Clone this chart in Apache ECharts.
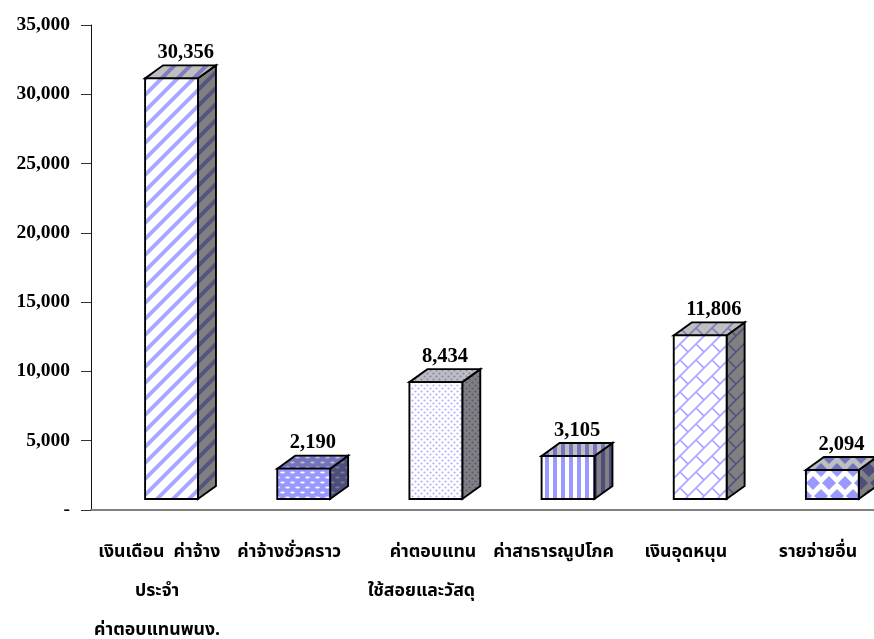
<!DOCTYPE html>
<html>
<head>
<meta charset="utf-8">
<style>html,body{margin:0;padding:0;background:#fff}#c{width:874px;height:639px}</style>
<script src="https://cdn.jsdelivr.net/npm/echarts@6/dist/echarts.min.js"></script>
</head>
<body>
<div id="c"></div>
<script>
const categories = [
  ' เงินเดือน  ค่าจ้าง\nประจำ\nค่าตอบแทนพนง.',
  'ค่าจ้างชั่วคราว',
  '     ค่าตอบแทน\nใช้สอยและวัสดุ',
  'ค่าสาธารณูปโภค',
  'เงินอุดหนุน',
  'รายจ่ายอื่น'
];
const values = [30356, 2190, 8434, 3105, 11806, 2094];
const yTickLabels = ['-', '5,000', '10,000', '15,000', '20,000', '25,000', '30,000', '35,000'];

const SHADES = [1, 0.75, 0.5];
function shade(rgb, k) {
  return 'rgb(' + rgb.map(c => Math.round(c * k)).join(',') + ')';
}
const BLUE = [153, 153, 255], WHITE = [255, 255, 255];

function tile(w, h, bg, k, draw) {
  const c = document.createElement('canvas');
  c.width = w; c.height = h;
  const g = c.getContext('2d');
  g.fillStyle = shade(bg, k);
  g.fillRect(0, 0, w, h);
  draw(g, k);
  return { image: c, repeat: 'repeat' };
}
function ellipse(g, x, y, rx, ry) {
  g.beginPath(); g.ellipse(x, y, rx, ry, 0, 0, Math.PI * 2); g.fill();
}
const painters = [
  k => tile(16, 16, WHITE, k, (g) => {
    g.strokeStyle = shade([168, 168, 255], k); g.lineWidth = 4;
    for (let i = -16; i <= 32; i += 16) {
      g.beginPath(); g.moveTo(i - 2, 18); g.lineTo(i + 18, -2); g.stroke();
    }
  }),
  k => tile(10, 10, BLUE, k, (g) => {
    g.fillStyle = shade(WHITE, k);
    ellipse(g, 2.5, 2.5, 2.3, 1); ellipse(g, 7.5, 7.5, 2.3, 1);
    ellipse(g, -2.5, 7.5, 2.3, 1); ellipse(g, 12.5, 2.5, 2.3, 1);
  }),
  k => tile(6, 6, WHITE, k, (g) => {
    g.fillStyle = shade([176, 176, 255], k);
    ellipse(g, 1.5, 1.5, 1.1, 1.1); ellipse(g, 4.5, 4.5, 1.1, 1.1);
  }),
  k => tile(8, 8, WHITE, k, (g) => {
    g.fillStyle = shade(BLUE, k);
    g.fillRect(1, 0, 4, 8);
  }),
  k => tile(16, 16, WHITE, k, (g) => {
    g.strokeStyle = shade([165, 165, 255], k); g.lineWidth = 1.6;
    g.beginPath();
    g.moveTo(-1, 17); g.lineTo(17, -1);
    g.moveTo(-2, 2); g.lineTo(2, -2);
    g.moveTo(14, 18); g.lineTo(18, 14);
    g.moveTo(8, 8); g.lineTo(16, 16);
    g.stroke();
  }),
  k => tile(16, 26, WHITE, k, (g) => {
    g.fillStyle = shade(BLUE, k);
    [[13, 15], [5, 2], [5, 28], [-3, 15], [13, -11], [21, 2], [21, 28]].forEach(p => {
      g.beginPath();
      g.moveTo(p[0] - 7, p[1]); g.lineTo(p[0], p[1] - 7);
      g.lineTo(p[0] + 7, p[1]); g.lineTo(p[0], p[1] + 7);
      g.closePath(); g.fill();
    });
  })
];
const patterns = painters.map(p => SHADES.map(k => p(k)));

const FRONT_LIFT = 11, DEPTH_X = 18, DEPTH_Y = 13, CENTER_SHIFT = 12;
const outline = { stroke: '#000', lineWidth: 1.9, lineJoin: 'miter' };

function renderBar(params, api) {
  const i = api.value(0), v = api.value(1);
  const top = api.coord([i, v]), base = api.coord([i, 0]);
  const w = api.size([1, 0])[0] * 0.4;
  const x0 = top[0] - CENTER_SHIFT, x1 = x0 + w;
  const y0 = top[1] - FRONT_LIFT, y1 = base[1] - FRONT_LIFT;
  const p = patterns[i];
  const poly = (pts, fill) => ({
    type: 'polygon', shape: { points: pts },
    style: Object.assign({ fill: fill }, outline)
  });
  return {
    type: 'group',
    children: [
      poly([[x1, y0], [x1 + DEPTH_X, y0 - DEPTH_Y], [x1 + DEPTH_X, y1 - DEPTH_Y], [x1, y1]], p[2]),
      poly([[x0, y0], [x0 + DEPTH_X, y0 - DEPTH_Y], [x1 + DEPTH_X, y0 - DEPTH_Y], [x1, y0]], p[1]),
      poly([[x0, y0], [x1, y0], [x1, y1], [x0, y1]], p[0]),
      {
        type: 'text',
        style: {
          x: x0 + 12.5, y: y0 - DEPTH_Y - 2,
          text: v.toLocaleString('en-US'),
          font: 'bold 20.5px "Liberation Serif"',
          fill: '#000', align: 'left', verticalAlign: 'bottom'
        }
      }
    ]
  };
}

const chart = echarts.init(document.getElementById('c'), null, { renderer: 'canvas' });
chart.setOption({
  animation: false,
  backgroundColor: '#fff',
  grid: { left: 91, right: -10, top: 25, bottom: 129, containLabel: false, outerBoundsMode: 'none' },
  xAxis: {
    type: 'category',
    data: categories,
    axisLine: { lineStyle: { color: '#808080', width: 2 } },
    axisTick: { length: 10, lineStyle: { color: '#222', width: 1 } },
    axisLabel: {
      interval: 0, margin: 24, lineHeight: 39, hideOverlap: false,
      color: '#000', fontWeight: 'bold', fontSize: 17.7,
      fontFamily: '"Noto Sans Thai","Liberation Serif","Noto Sans","DejaVu Sans",serif'
    }
  },
  yAxis: {
    type: 'value', min: 0, max: 35000, interval: 5000,
    axisLine: { show: true, lineStyle: { color: '#111', width: 1 } },
    axisTick: { show: true, length: 10, lineStyle: { color: '#333', width: 1 } },
    splitLine: { show: false },
    axisLabel: {
      margin: 21, color: '#000', fontWeight: 'bold', fontSize: 19.5,
      fontFamily: '"Liberation Serif"',
      formatter: v => yTickLabels[v / 5000]
    }
  },
  series: [{
    type: 'custom',
    renderItem: renderBar,
    encode: { x: 0, y: 1 },
    silent: true,
    data: values.map((v, i) => [i, v])
  }]
});
</script>
</body>
</html>
